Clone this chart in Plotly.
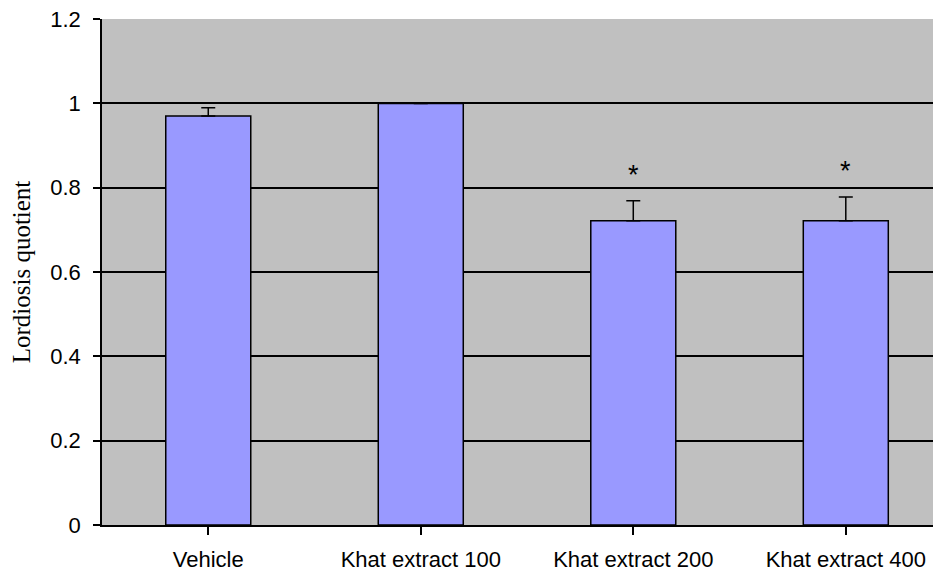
import plotly.graph_objects as go

categories = ["Vehicle", "Khat extract 100", "Khat extract 200", "Khat extract 400"]
values = [0.97, 1.0, 0.722, 0.722]
errors = [0.02, 0.0, 0.047, 0.056]
significance = ["", "", "*", "*"]
y_ticks = [0, 0.2, 0.4, 0.6, 0.8, 1, 1.2]
y_tick_labels = ["0", "0.2", "0.4", "0.6", "0.8", "1", "1.2"]

fig = go.Figure()
fig.add_trace(go.Bar(
    x=list(range(len(categories))),
    y=values,
    width=0.4,
    marker=dict(color="#9999FF", line=dict(color="#000000", width=1.5)),
    error_y=dict(type="data", array=errors, symmetric=False,
                 arrayminus=[0] * len(errors),
                 color="#000000", thickness=1.5, width=7),
    showlegend=False,
))

for i, s in enumerate(significance):
    if s:
        fig.add_annotation(x=i, y=values[i] + errors[i], text=s, showarrow=False,
                           yanchor="bottom", yshift=9,
                           font=dict(family="Liberation Sans, Arial", size=27, color="#000000"))

# page body has an 8px default margin, so the figure is offset by 8px
fig.update_layout(
    width=933, height=566,
    margin=dict(l=94, r=0, t=11, b=49, autoexpand=False),
    paper_bgcolor="#FFFFFF",
    plot_bgcolor="#C0C0C0",
    font=dict(family="Liberation Sans, Arial", size=22, color="#000000"),
)
fig.update_xaxes(
    tickmode="array", tickvals=list(range(len(categories))), ticktext=categories,
    range=[-0.5, 3.448], tickson="boundaries", automargin=False,
    ticks="outside", ticklen=8, tickwidth=1.5, tickcolor="#000000",
    showline=True, linecolor="#000000", linewidth=1.5,
    showgrid=False, zeroline=False,
    tickfont=dict(family="Liberation Sans, Arial", size=22),
    ticklabelstandoff=6,
)
fig.update_yaxes(
    range=[0, 1.2003], tickmode="array", tickvals=y_ticks, ticktext=y_tick_labels,
    automargin=False, ticklabeloverflow="allow",
    ticks="outside", ticklen=7, tickwidth=1.5, tickcolor="#000000",
    showline=True, linecolor="#000000", linewidth=1.5,
    showgrid=True, gridcolor="#000000", gridwidth=1.5, zeroline=False,
    tickfont=dict(family="Liberation Sans, Arial", size=22),
    ticklabelstandoff=8,
    title=dict(text="Lordiosis quotient", font=dict(family="Liberation Serif, Times New Roman", size=25), standoff=14),
)

fig.write_html("out.html")
